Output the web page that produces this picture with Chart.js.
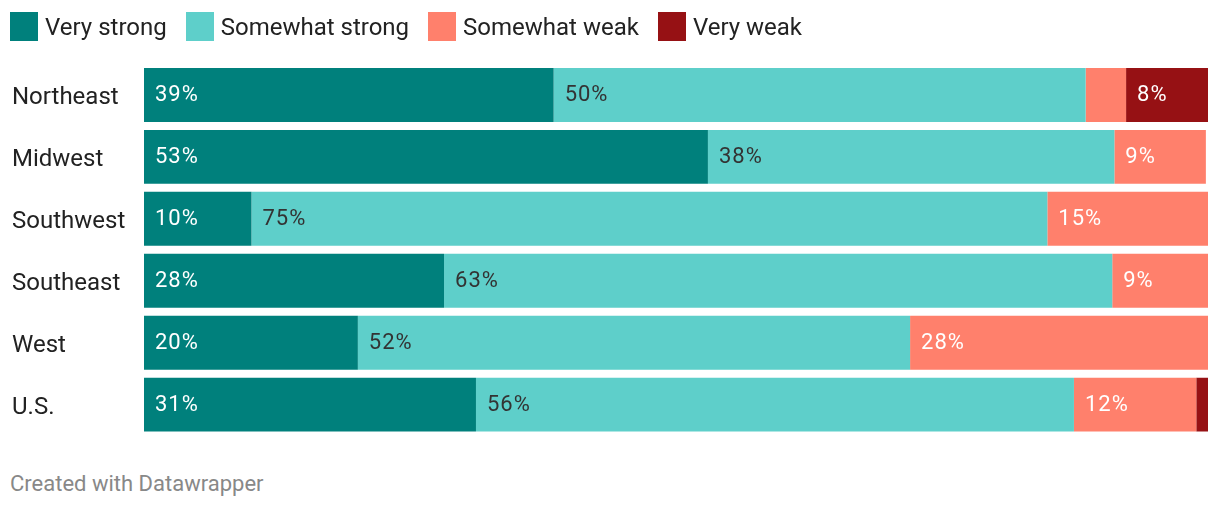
<!DOCTYPE html>
<html>
<head>
<meta charset="utf-8">
<script src="https://cdn.jsdelivr.net/npm/chart.js@4"></script>
<style>
  body { margin: 0; background: #fff; font-family: Roboto, sans-serif; }
  #wrap { position: relative; width: 1220px; height: 510px; }
  #legend { position: absolute; left: 10px; top: 12px; display: flex; align-items: center; font-size: 24px; color: #222; }
  .item { display: flex; align-items: center; margin-right: 19px; }
  .sw { width: 28px; height: 29px; margin-right: 7px; }
  #credit { position: absolute; left: 10px; top: 471px; font-size: 22px; color: #888; }
</style>
</head>
<body>
<div id="wrap">
  <canvas id="chart" width="1220" height="450"></canvas>
  <div id="legend"></div>
  <div id="credit">Created with Datawrapper</div>
</div>
<script>
// --- DATA ---
const categories = ['Northeast', 'Midwest', 'Southwest', 'Southeast', 'West', 'U.S.'];
const seriesNames = ['Very strong', 'Somewhat strong', 'Somewhat weak', 'Very weak'];
const veryStrong = [38.5, 53.0, 10.1, 28.2, 20.1, 31.2];
const somewhatStrong = [50.0, 38.2, 74.8, 62.8, 51.9, 56.2];
const somewhatWeak = [3.8, 8.6, 15.1, 9.0, 28.0, 11.5];
const veryWeak = [7.7, 0, 0, 0, 0, 1.1];

const colors = ['#00807c', '#5ecfca', '#ff806c', '#961114'];
const labelColors = ['#fff', '#333', '#fff', '#fff'];
const allSeries = [veryStrong, somewhatStrong, somewhatWeak, veryWeak];

// legenda
document.getElementById('legend').innerHTML = seriesNames.map((n, i) =>
  `<div class="item"><div class="sw" style="background:${colors[i]}"></div><span>${n}</span></div>`
).join('');

// popisky hodnot uvnitř pruhů
const barLabels = {
  id: 'barLabels',
  afterDatasetsDraw(chart) {
    const ctx = chart.ctx;
    ctx.save();
    ctx.font = '22px Roboto';
    ctx.letterSpacing = '1px';
    ctx.textBaseline = 'middle';
    ctx.textAlign = 'left';
    chart.data.datasets.forEach((ds, i) => {
      chart.getDatasetMeta(i).data.forEach((bar, j) => {
        const v = ds.data[j];
        if (v < 5) return;
        const left = Math.min(bar.x, bar.base);
        ctx.fillStyle = labelColors[i];
        ctx.fillText(Math.round(v) + '%', left + 11, bar.y + 1);
      });
    });
    ctx.restore();
  }
};

new Chart(document.getElementById('chart'), {
  type: 'bar',
  data: {
    labels: categories,
    datasets: allSeries.map((d, i) => ({
      label: seriesNames[i],
      data: d,
      backgroundColor: colors[i],
      borderWidth: 0,
      barPercentage: 1,
      categoryPercentage: 54 / 62
    }))
  },
  options: {
    indexAxis: 'y',
    responsive: false,
    animation: false,
    layout: { padding: { top: 64, bottom: 14, left: 12, right: 12 } },
    plugins: { legend: { display: false }, tooltip: { enabled: false } },
    scales: {
      x: { stacked: true, min: 0, max: 100, display: false },
      y: {
        stacked: true,
        grid: { display: false },
        border: { display: false },
        ticks: { color: '#222', font: { family: 'Roboto', size: 24 }, crossAlign: 'far', padding: 0, labelOffset: 3 },
        afterFit: s => { s.width = 132; }
      }
    }
  },
  plugins: [barLabels]
});
</script>
</body>
</html>
